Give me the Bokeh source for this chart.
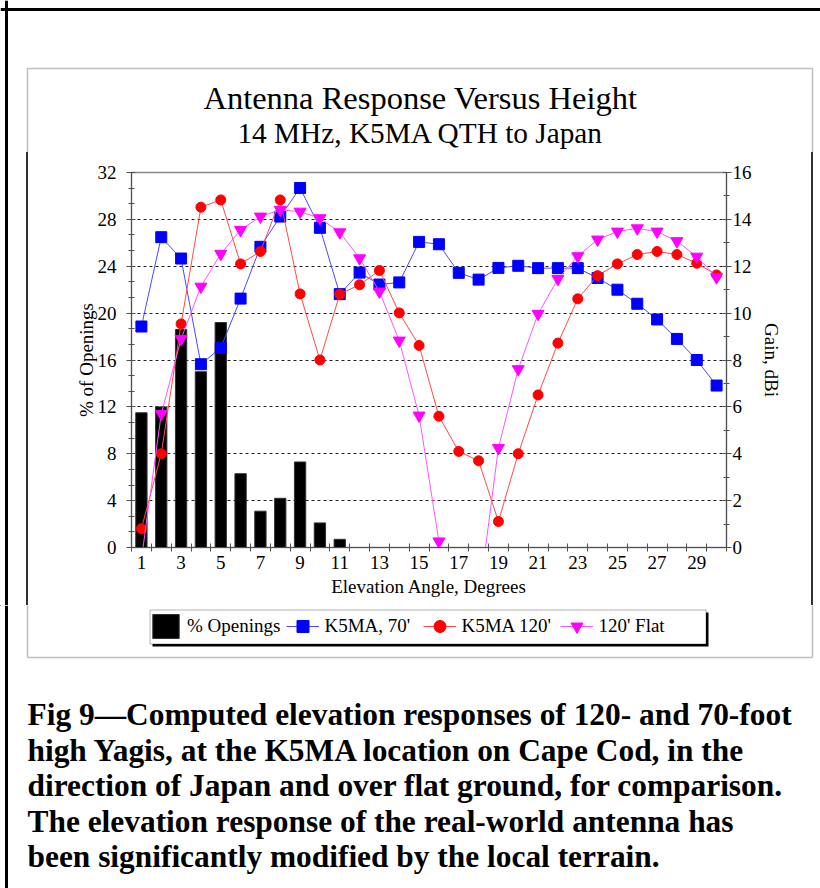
from bokeh.plotting import figure
from bokeh.layouts import column, row
from bokeh.models import (Range1d, LinearAxis, FixedTicker, Label, BoxAnnotation, Span,
                          Legend, LegendItem, Spacer)
from bokeh.embed import file_html
from bokeh.resources import INLINE

# ---------------- data ----------------
angles = [1, 2, 3, 4, 5, 6, 7, 8, 9, 10, 11, 12, 13, 14, 15,
          16, 17, 18, 19, 20, 21, 22, 23, 24, 25, 26, 27, 28, 29, 30]
pct_openings = [11.5, 12.0, 18.6, 15.0, 19.2, 6.3, 3.1, 4.2, 7.3, 2.1,
                0.7, 0, 0, 0, 0, 0, 0, 0, 0, 0,
                0, 0, 0, 0, 0, 0, 0, 0, 0, 0]
k5ma_70 = [9.43, 13.24, 12.33, 7.82, 8.52, 10.62, 12.83, 14.12, 15.34, 13.64,
           10.81, 11.73, 11.22, 11.31, 13.04, 12.94, 11.72, 11.43, 11.93, 12.02,
           11.92, 11.92, 11.92, 11.5, 11.0, 10.4, 9.73, 8.9, 8.0, 6.91]
k5ma_120 = [0.8, 4.0, 9.54, 14.52, 14.83, 12.1, 12.63, 14.83, 10.82, 8.0,
            10.81, 11.21, 11.82, 10.01, 8.62, 5.6, 4.1, 3.7, 1.11, 4.0,
            6.51, 8.72, 10.61, 11.6, 12.1, 12.5, 12.63, 12.5, 12.13, 11.63]
flat_120 = [-0.5, 5.70, 8.9, 11.13, 12.53, 13.55, 14.12, 14.41, 14.33, 14.05,
            13.45, 12.34, 10.92, 8.83, 5.63, 0.26, -6.0, -2.3, 4.25, 7.61,
            9.97, 11.46, 12.43, 13.14, 13.48, 13.62, 13.48, 13.07, 12.41, 11.53]

x_labels = [1, 3, 5, 7, 9, 11, 13, 15, 17, 19, 21, 23, 25, 27, 29]
x_bounds = [0.5, 1.5, 2.5, 3.5, 4.5, 5.5, 6.5, 7.5, 8.5, 9.5, 10.5, 11.5, 12.5, 13.5, 14.5,
            15.5, 16.5, 17.5, 18.5, 19.5, 20.5, 21.5, 22.5, 23.5, 24.5, 25.5, 26.5, 27.5,
            28.5, 29.5, 30.5]
left_ticks = [0, 4, 8, 12, 16, 20, 24, 28, 32]
left_minor = [0, 1.3333, 2.6667, 4, 5.3333, 6.6667, 8, 9.3333, 10.6667, 12, 13.3333, 14.6667,
              16, 17.3333, 18.6667, 20, 21.3333, 22.6667, 24, 25.3333, 26.6667, 28,
              29.3333, 30.6667, 32]
grid_ticks = [4, 8, 12, 16, 20, 24, 28]
right_ticks = [0, 2, 4, 6, 8, 10, 12, 14, 16]
right_minor = [0, 1, 2, 3, 4, 5, 6, 7, 8, 9, 10, 11, 12, 13, 14, 15, 16]

title = "Antenna Response Versus Height"
subtitle = "14 MHz, K5MA QTH to Japan"
legend_labels = ["% Openings", "K5MA, 70'", "K5MA 120'", "120' Flat"]
caption = [
    "Fig 9\u2014Computed elevation responses of 120- and 70-foot",
    "high Yagis, at the K5MA location on Cape Cod, in the",
    "direction of Japan and over flat ground, for comparison.",
    "The elevation response of the real-world antenna has",
    "been significantly modified by the local terrain.",
]

FONT = "Liberation Serif"
BLUE, RED, MAG = "#0000ff", "#ff0000", "#ff00ff"
BLUE_L, RED_L, MAG_L = "#4a4aff", "#ff4a4a", "#ff55ff"
BOX = "#303030"

# ---------------- page geometry (page pixels) ----------------
PAGE_W, PAGE_H = 820, 888
TOP_H = 152          # title strip
MID_BOTTOM = 605     # chart row ends here
LEFT_W, RIGHT_W = 50, 20
FRAME_L, FRAME_T, FRAME_W, FRAME_H = 131, 172, 595, 375


def deco_fig(x0, x1, y0, y1):
    """A figure whose frame is its whole canvas, data coordinates = page pixels."""
    f = figure(width=x1 - x0, height=y1 - y0,
               x_range=Range1d(x0, x1), y_range=Range1d(y1, y0),
               min_border=0, output_backend="svg", toolbar_location=None,
               x_axis_location=None, y_axis_location=None,
               background_fill_color="white", border_fill_color="white")
    f.outline_line_color = None
    f.xgrid.visible = False
    f.ygrid.visible = False
    # outer frame left edge
    f.add_layout(Span(location=6, dimension="height", line_color="black", line_width=3))
    # inner chart box
    f.add_layout(BoxAnnotation(left=27, right=812, top=68, bottom=657, fill_alpha=0,
                               line_color=BOX, line_width=1.5))
    return f


def text(f, x, y, s, size, style="normal", align="center"):
    f.add_layout(Label(x=x, y=y, text=s, text_font=FONT, text_font_size=size,
                       text_font_style=style, text_align=align,
                       text_baseline="middle", text_color="black"))


# ---------------- top strip: titles ----------------
top = deco_fig(0, PAGE_W, 0, TOP_H)
top.add_layout(Span(location=9, dimension="width", line_color="black", line_width=3))
text(top, 420, 97, title, "32.5px")
text(top, 420, 132, subtitle, "29.3px")


# ---------------- side strips (plain CSS lines, continuing the boxes) ----------------
def strip(width, stops):
    return Spacer(width=width, height=MID_BOTTOM - TOP_H,
                  styles={"background": "linear-gradient(to right, " + stops + ")"})


left = strip(LEFT_W, "#fff 0px, #fff 4.5px, #000 4.5px, #000 7.5px, #fff 7.5px, "
                     "#fff 26.25px, %s 26.25px, %s 27.75px, #fff 27.75px, #fff 100%%" % (BOX, BOX))
right = strip(RIGHT_W, "#fff 0px, #fff 11.25px, %s 11.25px, %s 12.75px, #fff 12.75px, "
                       "#fff 100%%" % (BOX, BOX))

# ---------------- chart ----------------
CW = PAGE_W - LEFT_W - RIGHT_W
CH = MID_BOTTOM - TOP_H
p = figure(frame_width=FRAME_W, frame_height=FRAME_H,
           min_border_left=FRAME_L - LEFT_W, min_border_top=FRAME_T - TOP_H,
           min_border_right=CW - (FRAME_L - LEFT_W) - FRAME_W,
           min_border_bottom=CH - (FRAME_T - TOP_H) - FRAME_H,
           x_range=Range1d(0.5, 30.5), y_range=Range1d(0, 32),
           output_backend="svg", toolbar_location=None,
           background_fill_color="white", border_fill_color="white",
           x_axis_location=None, y_axis_location=None)
p.extra_y_ranges = {"gain": Range1d(0, 16)}

p.outline_line_color = "#8a8a8a"
p.outline_line_width = 1.5
p.xgrid.visible = False
p.ygrid.ticker = FixedTicker(ticks=grid_ticks)
p.ygrid.grid_line_color = "#222222"
p.ygrid.grid_line_dash = "3 3"
p.ygrid.grid_line_width = 1

AX = "#505050"


def style_axis(ax):
    ax.axis_line_color = AX
    ax.major_tick_line_color = AX
    ax.minor_tick_line_color = AX
    ax.major_label_text_font = FONT
    ax.major_label_text_font_size = "19px"
    ax.major_label_text_color = "black"
    ax.axis_label_text_font = FONT
    ax.axis_label_text_font_size = "19px"
    ax.axis_label_text_font_style = "normal"
    ax.axis_label_text_color = "black"


xaxis = LinearAxis(ticker=FixedTicker(ticks=x_labels, minor_ticks=x_bounds),
                   axis_label="Elevation Angle, Degrees")
style_axis(xaxis)
xaxis.major_tick_in = 0
xaxis.major_tick_out = 0
xaxis.minor_tick_in = 4
xaxis.minor_tick_out = 4
xaxis.major_label_standoff = 4
xaxis.axis_label_standoff = 4
p.add_layout(xaxis, "below")

yaxis = LinearAxis(ticker=FixedTicker(ticks=left_ticks, minor_ticks=left_minor),
                   axis_label="% of Openings")
style_axis(yaxis)
yaxis.major_tick_in = 4
yaxis.major_tick_out = 5
yaxis.minor_tick_in = 3
yaxis.minor_tick_out = 3
yaxis.major_label_standoff = 10
yaxis.axis_label_standoff = -2
p.add_layout(yaxis, "left")

raxis = LinearAxis(y_range_name="gain",
                   ticker=FixedTicker(ticks=right_ticks, minor_ticks=right_minor),
                   axis_label="Gain, dBi")
style_axis(raxis)
raxis.major_tick_in = 4
raxis.major_tick_out = 5
raxis.minor_tick_in = 3
raxis.minor_tick_out = 3
raxis.major_label_standoff = 1
raxis.axis_label_standoff = 6
p.add_layout(raxis, "right")

p.vbar(x=angles, top=pct_openings, width=0.57, fill_color="black",
       line_color="#333333", line_width=1)
p.line(angles, k5ma_70, y_range_name="gain", line_color=BLUE_L, line_width=1)
p.scatter(angles, k5ma_70, y_range_name="gain", marker="square", size=11,
          fill_color=BLUE, line_color=BLUE)
p.line(angles, k5ma_120, y_range_name="gain", line_color=RED_L, line_width=1)
p.scatter(angles, k5ma_120, y_range_name="gain", marker="circle", size=10,
          fill_color=RED, line_color=RED)
p.line(angles, flat_120, y_range_name="gain", line_color=MAG_L, line_width=1)
p.scatter(angles, flat_120, y_range_name="gain", marker="inverted_triangle", size=12,
          fill_color=MAG, line_color=MAG)

# ---------------- bottom strip: legend + caption ----------------
bot = deco_fig(0, PAGE_W, MID_BOTTOM, PAGE_H)
# legend shadow and box
bot.add_layout(BoxAnnotation(left=152, right=708, top=612, bottom=646, fill_color="black",
                             fill_alpha=1, line_alpha=0))
bot.add_layout(BoxAnnotation(left=149.5, right=705.5, top=609.5, bottom=643.5,
                             fill_color="white", fill_alpha=1, line_color="black",
                             line_width=1))

# legend swatches (renderers placed off-canvas; only their legend glyphs show)
off = [-100, -90]
lb = bot.vbar(x=off, top=[1, 1], bottom=[0, 0], width=0.57, fill_color="black",
              line_color="#333333")
l1 = bot.line(off, off, line_color=BLUE_L, line_width=1)
m1 = bot.scatter(off, off, marker="square", size=9, fill_color=BLUE, line_color=BLUE)
l2 = bot.line(off, off, line_color=RED_L, line_width=1)
m2 = bot.scatter(off, off, marker="circle", size=9, fill_color=RED, line_color=RED)
l3 = bot.line(off, off, line_color=MAG_L, line_width=1)
m3 = bot.scatter(off, off, marker="inverted_triangle", size=11, fill_color=MAG,
                 line_color=MAG)

legend = Legend(items=[
    LegendItem(label=legend_labels[0], renderers=[lb]),
    LegendItem(label=legend_labels[1], renderers=[l1, m1]),
    LegendItem(label=legend_labels[2], renderers=[l2, m2]),
    LegendItem(label=legend_labels[3], renderers=[l3, m3]),
], location=(149, PAGE_H - 641), orientation="horizontal", border_line_color=None,
    background_fill_alpha=0, padding=5, spacing=6, glyph_width=33, glyph_height=30,
    label_standoff=5, label_width=93, margin=0,
    label_text_font=FONT, label_text_font_size="19px", label_text_color="black")
bot.add_layout(legend, "center")

for i, line in enumerate(caption):
    text(bot, 27, 714 + 35.5 * i, line, "31.4px", style="bold", align="left")

layout = column(top, row(left, p, right), bot)
open("out.html", "w").write(file_html(layout, INLINE))
